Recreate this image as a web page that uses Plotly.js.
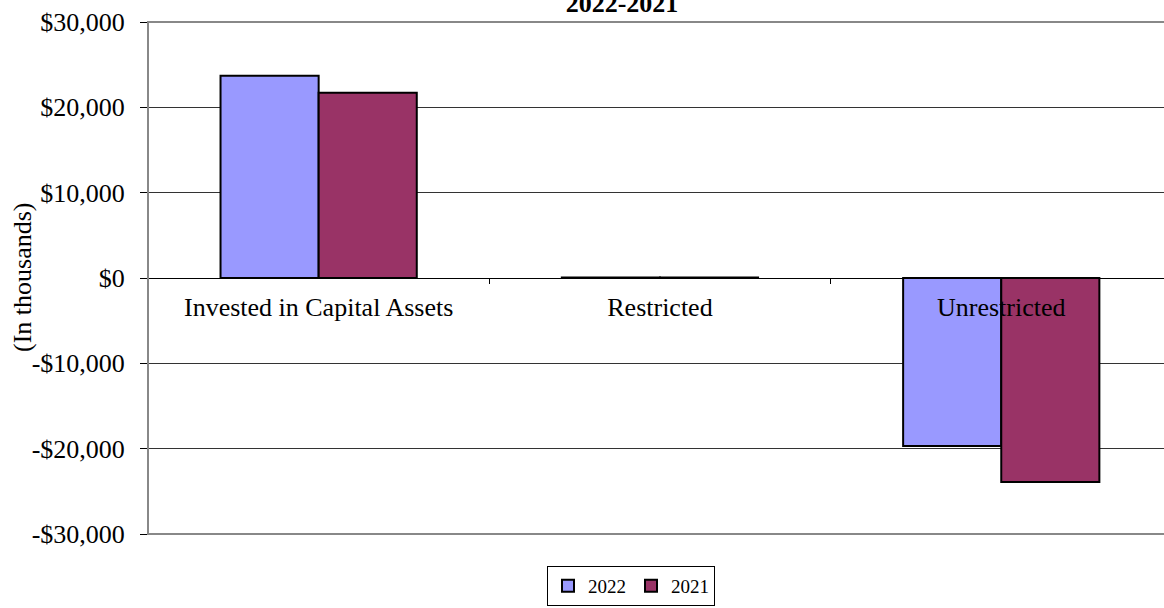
<!DOCTYPE html>
<html>
<head>
<meta charset="utf-8">
<script src="https://cdn.plot.ly/plotly-3.0.1.min.js"></script>
<style>
  html, body { margin: 0; padding: 0; overflow: hidden; background: #fff; }
  #chart { width: 1164px; height: 608px; }
</style>
</head>
<body>
<div id="chart"></div>
<script>
// ---- data ----
const categories = ['Invested in Capital Assets', 'Restricted', 'Unrestricted'];
const series2022 = [23700, 70, -19700];
const series2021 = [21700, 70, -23900];
const seriesNames = ['2022', '2021'];
const yTickVals = [-30000, -20000, -10000, 0, 10000, 20000, 30000];
const yTickLabels = ['-$30,000', '-$20,000', '-$10,000', '$0', '$10,000', '$20,000', '$30,000'];
const chartTitle = '2022-2021';
const yTitle = '(In thousands)';

const FONT = 'Liberation Serif, Times New Roman, serif';

const traces = [
  {
    type: 'bar', name: seriesNames[0], x: categories, y: series2022,
    marker: { color: '#9999FF', line: { color: '#000', width: 2 } }
  },
  {
    type: 'bar', name: seriesNames[1], x: categories, y: series2021,
    marker: { color: '#993366', line: { color: '#000', width: 2 } }
  }
];

const layout = {
  width: 1164, height: 608,
  margin: { l: 148, r: 0, t: 22, b: 74, pad: 0 },
  paper_bgcolor: '#fff', plot_bgcolor: '#fff',
  font: { family: FONT, size: 26, color: '#000' },
  barmode: 'group', bargap: 0.425, bargroupgap: 0,
  showlegend: true,
  title: {
    text: '<b>' + chartTitle + '</b>',
    font: { family: FONT, size: 26, color: '#000' },
    xref: 'container', x: 622 / 1164, xanchor: 'center',
    yref: 'container', y: 1 - 12 / 608, yanchor: 'bottom'
  },
  xaxis: {
    type: 'category',
    range: [-0.5, -0.5 + 1016 / 341.3],
    anchor: 'free', position: 0.5,
    showline: true, linecolor: '#000', linewidth: 1,
    ticks: 'outside', tickson: 'boundaries', ticklen: 5, tickcolor: '#000', tickwidth: 1,
    tickfont: { family: FONT, size: 26, color: '#000' },
    ticklabelstandoff: 6,
    automargin: false,
    showgrid: false, zeroline: false, fixedrange: true
  },
  yaxis: {
    range: [-30000, 30000],
    tickvals: yTickVals, ticktext: yTickLabels,
    showgrid: true, gridcolor: '#333', gridwidth: 1,
    zeroline: false,
    showline: false,
    ticks: 'outside', ticklen: 7, tickcolor: '#000', tickwidth: 1,
    tickfont: { family: FONT, size: 26, color: '#000' },
    ticklabelstandoff: 10,
    automargin: false,
    fixedrange: true
  },
  legend: {
    orientation: 'h',
    xref: 'container', yref: 'container',
    x: 547 / 1164, xanchor: 'left',
    y: 1 - 566 / 608, yanchor: 'top',
    bordercolor: '#000', borderwidth: 1, bgcolor: '#fff',
    font: { family: FONT, size: 19, color: '#000' },
    itemwidth: 30, tracegroupgap: 0
  },
  shapes: [
    { type: 'rect', xref: 'paper', yref: 'paper', x0: 0, x1: 1.05, y0: 0, y1: 1,
      line: { color: '#888', width: 2 }, fillcolor: 'rgba(0,0,0,0)', layer: 'above' }
  ],
  annotations: [
    { text: yTitle, xref: 'paper', yref: 'paper', x: (22 - 148) / 1016, y: 0.5,
      xanchor: 'center', yanchor: 'middle', textangle: -90, showarrow: false,
      font: { family: FONT, size: 26, color: '#000' } }
  ]
};

Plotly.newPlot('chart', traces, layout, { displayModeBar: false, staticPlot: true });
</script>
</body>
</html>
